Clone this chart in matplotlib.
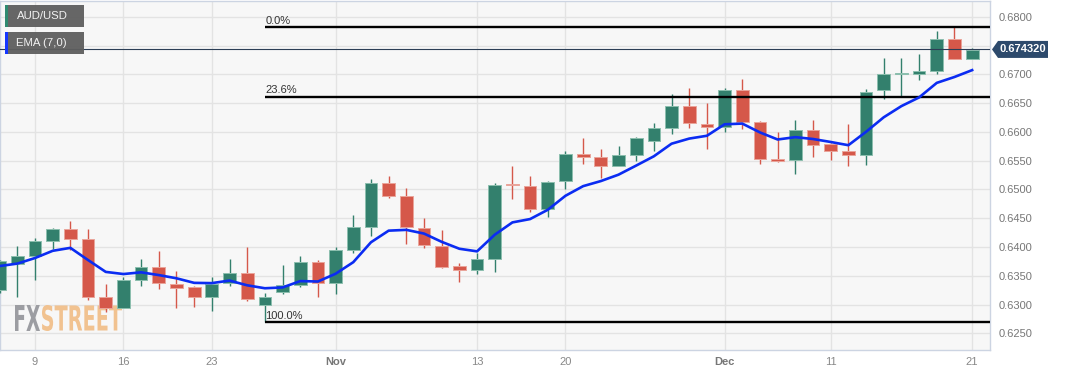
import matplotlib
matplotlib.use('Agg')
import matplotlib.pyplot as plt
from matplotlib.patches import Rectangle, Polygon, PathPatch
from matplotlib.textpath import TextPath
from matplotlib.font_manager import FontProperties
from matplotlib.transforms import IdentityTransform, Affine2D
import numpy as np

# ---------------- data (AUD/USD daily) ----------------
dates = ['Oct 5', 'Oct 6', 'Oct 9', 'Oct 10', 'Oct 11', 'Oct 12', 'Oct 13',
         'Oct 16', 'Oct 17', 'Oct 18', 'Oct 19', 'Oct 20',
         'Oct 23', 'Oct 24', 'Oct 25', 'Oct 26', 'Oct 27',
         'Oct 30', 'Oct 31', 'Nov 1', 'Nov 2', 'Nov 3',
         'Nov 6', 'Nov 7', 'Nov 8', 'Nov 9', 'Nov 10',
         'Nov 13', 'Nov 14', 'Nov 15', 'Nov 16', 'Nov 17',
         'Nov 20', 'Nov 21', 'Nov 22', 'Nov 23', 'Nov 24',
         'Nov 27', 'Nov 28', 'Nov 29', 'Nov 30', 'Dec 1',
         'Dec 4', 'Dec 5', 'Dec 6', 'Dec 7', 'Dec 8',
         'Dec 11', 'Dec 12', 'Dec 13', 'Dec 14', 'Dec 15',
         'Dec 18', 'Dec 19', 'Dec 20', 'Dec 21']

opens = [0.6325, 0.6371, 0.6384, 0.6411, 0.6431, 0.6414, 0.6314,
         0.6295, 0.6343, 0.6365, 0.6336, 0.6331,
         0.6314, 0.6337, 0.6355, 0.6300, 0.6322,
         0.6334, 0.6374, 0.6337, 0.6394, 0.6434,
         0.6512, 0.6489, 0.6433, 0.6402, 0.6367,
         0.6361, 0.6379, 0.6509, 0.6506, 0.6466,
         0.6515, 0.6562, 0.6556, 0.6541, 0.6559,
         0.6585, 0.6607, 0.6645, 0.6614, 0.6608,
         0.6673, 0.6618, 0.6553, 0.6551, 0.6603,
         0.6579, 0.6567, 0.6560, 0.6672, 0.6701,
         0.6701, 0.6705, 0.6761, 0.6726]

highs = [0.6378, 0.6402, 0.6416, 0.6433, 0.6445, 0.6431, 0.6336,
         0.6348, 0.6380, 0.6393, 0.6358, 0.6332,
         0.6348, 0.6379, 0.6400, 0.6320, 0.6369,
         0.6384, 0.6377, 0.6400, 0.6456, 0.6518,
         0.6524, 0.6502, 0.6450, 0.6430, 0.6373,
         0.6390, 0.6512, 0.6541, 0.6523, 0.6515,
         0.6566, 0.6589, 0.6570, 0.6575, 0.6591,
         0.6616, 0.6666, 0.6676, 0.6650, 0.6676,
         0.6691, 0.6619, 0.6599, 0.6621, 0.6621,
         0.6580, 0.6613, 0.6674, 0.6728, 0.6728,
         0.6735, 0.6775, 0.6782, 0.6746]

lows = [0.6320, 0.6313, 0.6342, 0.6397, 0.6395, 0.6308, 0.6287,
        0.6295, 0.6333, 0.6328, 0.6295, 0.6296,
        0.6289, 0.6333, 0.6307, 0.6270, 0.6319,
        0.6331, 0.6314, 0.6318, 0.6390, 0.6420,
        0.6486, 0.6405, 0.6398, 0.6363, 0.6339,
        0.6353, 0.6356, 0.6483, 0.6460, 0.6452,
        0.6500, 0.6544, 0.6520, 0.6541, 0.6550,
        0.6567, 0.6596, 0.6606, 0.6571, 0.6599,
        0.6605, 0.6544, 0.6548, 0.6526, 0.6557,
        0.6551, 0.6540, 0.6542, 0.6657, 0.6662,
        0.6690, 0.6701, 0.6726, 0.6726]

closes = [0.6376, 0.6384, 0.6410, 0.6431, 0.6414, 0.6314, 0.6295,
          0.6342, 0.6365, 0.6337, 0.6329, 0.6314,
          0.6336, 0.6355, 0.6309, 0.6313, 0.6334,
          0.6374, 0.6338, 0.6394, 0.6434, 0.6512,
          0.6489, 0.6434, 0.6404, 0.6366, 0.6361,
          0.6379, 0.6508, 0.6507, 0.6466, 0.6513,
          0.6562, 0.6556, 0.6541, 0.6559, 0.6589,
          0.6606, 0.6645, 0.6615, 0.6608, 0.6673,
          0.6618, 0.6553, 0.6550, 0.6603, 0.6578,
          0.6567, 0.6560, 0.6670, 0.6701, 0.6703,
          0.6705, 0.6761, 0.6726, 0.6743]

ema_period = 7
ema_first = 0.6367          # EMA value at the first visible candle

fib_low = 0.6270
fib_high = 0.6782
fib_ratios = [0.0, 0.236, 1.0]
fib_labels = ['0.0%', '23.6%', '100.0%']
fib_start = 15              # index of the swing low candle (Oct 26)

last_price = 0.674320
last_price_label = '0.674320'

price_ticks = [0.6250, 0.6300, 0.6350, 0.6400, 0.6450, 0.6500, 0.6550,
               0.6600, 0.6650, 0.6700, 0.6750, 0.6800]
xtick_idx = [2, 7, 12, 19, 27, 32, 41, 47, 55]
xtick_labels = ['9', '16', '23', 'Nov', '13', '20', 'Dec', '11', '21']
month_labels = ['Nov', 'Dec']

# ---------------- figure ----------------
W, H = 1067, 376
fig = plt.figure(figsize=(W / 100, H / 100), dpi=100)
fig.patch.set_facecolor('white')

ax = fig.add_axes([0 / W, (H - 350) / H, 990 / W, 349 / H])
ax.set_facecolor('#f7f7f7')

x = np.arange(len(closes))
o = np.array(opens); h = np.array(highs); l = np.array(lows); c = np.array(closes)

up_col, up_edge = '#33806d', '#8cbfae'
dn_col, dn_edge = '#d5584a', '#eaa49a'

up = c >= o
cols = np.where(up, up_col, dn_col)
edges = np.where(up, up_edge, dn_edge)

ax.vlines(x, l, h, colors=cols, lw=1.0, zorder=3)
ax.bar(x, np.abs(c - o), bottom=np.minimum(o, c), width=0.72,
       color=cols, edgecolor=edges, linewidth=0.7, zorder=3.2)

# EMA
alpha = 2.0 / (ema_period + 1)
ema = [ema_first]
for v in closes[1:]:
    ema.append(ema[-1] + alpha * (v - ema[-1]))
ax.plot(x, ema, color='#0b2cf2', lw=1.9, zorder=4, solid_joinstyle='round')

xmin, xmax = 0.02, 56.01
ax.set_xlim(xmin, xmax)
ax.set_ylim(0.62212, 0.68273)

# Fibonacci levels
for r, lab in zip(fib_ratios, fib_labels):
    lev = fib_high - r * (fib_high - fib_low)
    ax.hlines(lev, fib_start, xmax, color='black', lw=1.7, zorder=3.5)
    ax.text(fib_start + 0.02, lev + 0.00022, lab, fontsize=8, color='#333333',
            family='Liberation Sans', ha='left', va='bottom', zorder=5)

# last price line
ax.axhline(last_price, color='#2c3e56', lw=0.8, zorder=3.6)

# grid / ticks
ax.set_yticks(price_ticks)
ax.set_yticklabels(['' if abs(t - 0.675) < 1e-9 else f'{t:.4f}' for t in price_ticks])
ax.set_xticks(xtick_idx)
ax.set_xticklabels(xtick_labels)
ax.yaxis.tick_right()
ax.grid(True, color='#e3e3e3', lw=1.0, zorder=0)
ax.set_axisbelow(True)
ax.tick_params(axis='y', length=0, pad=6, labelsize=8, labelcolor='#777777')
ax.tick_params(axis='x', length=0, pad=5, labelsize=8, labelcolor='#888888')
for t in ax.get_yticklabels() + ax.get_xticklabels():
    t.set_family('Liberation Sans')
for t in ax.get_xticklabels():
    if t.get_text() in month_labels:
        t.set_fontweight('bold')
        t.set_color('#777777')
for s in ax.spines.values():
    s.set_color('#ccd4e2')
    s.set_linewidth(1.0)

# watermark FXSTREET
def watermark(text, color, box):
    fp = FontProperties(family='DejaVu Sans', weight='bold')
    tp = TextPath((0, 0), text, size=100, prop=fp)
    ext = tp.get_extents()
    x0, y0t, x1, y1t = box
    sx = (x1 - x0) / ext.width
    sy = (y1t - y0t) / ext.height
    tr = Affine2D().translate(-ext.x0, -ext.y0).scale(sx, sy).translate(x0, H - y1t)
    patch = PathPatch(tr.transform_path(tp), facecolor=color, edgecolor='none',
                      transform=IdentityTransform(), zorder=1.5)
    ax.add_artist(patch)

watermark('FX', '#9c9da2', (15, 305, 40, 331))
watermark('STREET', '#f1c290', (42, 305, 122, 331))

# price label on the right
fig.canvas.draw()
yc = ax.transData.transform((0, last_price))[1]
poly = Polygon([(992, yc), (998, yc + 8.5), (1048, yc + 8.5), (1048, yc - 8.5), (998, yc - 8.5)],
               closed=True, facecolor='#2d4a6c', edgecolor='none',
               transform=IdentityTransform(), zorder=10)
fig.add_artist(poly)
fig.text(1023, yc, last_price_label, transform=IdentityTransform(), color='white',
         fontsize=8, fontweight='bold', family='Liberation Sans',
         ha='center', va='center', zorder=11)

# legend boxes
def legend_box(y_top, label, stripe):
    fig.add_artist(Rectangle((5, H - y_top - 22), 79, 22, facecolor='#5e5e5e', alpha=0.95,
                             edgecolor='none', transform=IdentityTransform(), zorder=10))
    fig.add_artist(Rectangle((5, H - y_top - 22), 3, 22, facecolor=stripe,
                             edgecolor='none', transform=IdentityTransform(), zorder=11))
    fig.text(16.5, H - y_top - 11, label, transform=IdentityTransform(), color='#f2f2f2',
             fontsize=8.2, family='Liberation Sans', ha='left', va='center', zorder=12)

legend_box(5, 'AUD/USD', '#2f8a70')
legend_box(32, 'EMA (7,0)', '#1436ff')

fig.savefig('out.png', dpi=100, facecolor='white')
